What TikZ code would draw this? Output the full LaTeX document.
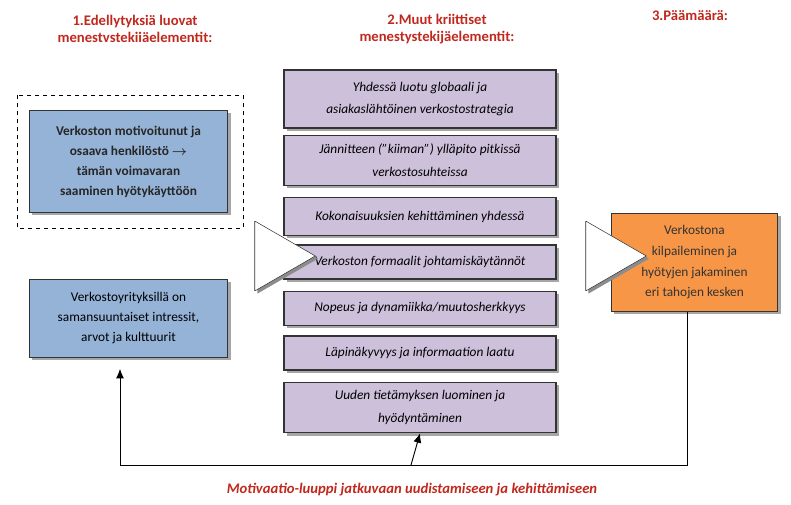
\documentclass[tikz,border=0pt]{standalone}
\usepackage{amsmath}
\usepackage{fontspec}
\setmainfont{Carlito}
\usetikzlibrary{shadows,shapes.arrows,arrows.meta}
\definecolor{hdr}{RGB}{192,40,30}
\definecolor{bl}{RGB}{149,179,215}
\definecolor{pu}{RGB}{204,192,218}
\definecolor{orn}{RGB}{247,150,70}
\begin{document}
\begin{tikzpicture}[x=0.75pt,y=-0.75pt,
 box/.style={draw=black!80,line width=0.8pt,drop shadow={shadow xshift=2pt,shadow yshift=-2pt,fill=black!35,opacity=1},align=center,inner sep=0pt},
 hd/.style={text=hdr,font=\bfseries\fontsize{11}{13}\selectfont,align=center},
 big/.style={single arrow,draw=black!80,fill=white,minimum height=30pt,minimum width=52pt,single arrow head extend=0pt,single arrow tip angle=60,inner sep=0pt,drop shadow={shadow xshift=2pt,shadow yshift=-2pt,fill=black!45,opacity=1},single arrow head indent=0pt}]
\useasboundingbox (0,0) rectangle (791,505);
\node[hd] (h1) at (135,29) {1.Edellytyksiä luovat\\menestvstekiiäelementit:};
\node[hd] (h2) at (437,29) {2.Muut kriittiset\\menestystekijäelementit:};
\node[hd] (h3) at (690,16) {3.Päämäärä:};
\draw[dashed,line width=0.5pt] (17,95) rectangle (243,228);
\node[box,fill=bl,minimum width=149pt,minimum height=77pt,font=\bfseries\fontsize{10}{15}\selectfont,text=black!85] (b1) at (128.5,161.5) {Verkoston motivoitunut ja\\osaava henkilöstö $\boldsymbol{\rightarrow}$\\tämän voimavaran\\saaminen hyötykäyttöön};
\node[box,fill=bl,minimum width=149pt,minimum height=58pt,font=\fontsize{10}{15}\selectfont] (b2) at (128.5,318.5) {Verkostoyrityksillä on\\samansuuntaiset intressit,\\arvot ja kulttuurit};
\tikzset{mid/.style={box,fill=pu,minimum width=204pt,font=\itshape\fontsize{10}{17}\selectfont}}
\node[mid,minimum height=43.5pt] (m1) at (420,99) {Yhdessä luotu globaali ja\\asiakaslähtöinen verkostostrategia};
\node[mid,minimum height=38pt] (m2) at (420,160.5) {Jännitteen (”kiiman”) ylläpito pitkissä\\verkostosuhteissa};
\node[mid,minimum height=29pt] (m3) at (420,216.5) {Kokonaisuuksien kehittäminen yhdessä};
\node[mid,minimum height=25.5pt] (m4) at (420,262) {Verkoston formaalit johtamiskäytännöt};
\node[mid,minimum height=25pt] (m5) at (420,308.5) {Nopeus ja dynamiikka/muutosherkkyys};
\node[mid,minimum height=25.5pt] (m6) at (420,353) {Läpinäkyvyys ja informaation laatu};
\node[mid,minimum height=38pt] (m7) at (420,407.5) {Uuden tietämyksen luominen ja\\hyödyntäminen};
\node[box,fill=orn,minimum width=125pt,minimum height=74pt,font=\fontsize{10}{15.5}\selectfont,text=black!80] (o) at (694.5,262.5) {Verkostona\\kilpaileminen ja\\hyötyjen jakaminen\\eri tahojen kesken};
\node[big] (a1) at (255,256) {};
\node[big] (a2) at (586,256) {};
\coordinate (c1) at (120,465);
\coordinate (c2) at (411,465);
\coordinate (c3) at (687,465);
\draw[line width=0.7pt] (o.south -| c3) -- (c3) -- (c1);
\draw[line width=0.7pt,-{Latex[length=7pt,width=6pt]}] (c1) -- (120,369);
\draw[line width=0.7pt,-{Latex[length=7pt,width=6pt]}] (c2) -- (m7.south);
\node[text=hdr,font=\bfseries\itshape\fontsize{11}{13}\selectfont] (cap) at (412,490) {Motivaatio-luuppi jatkuvaan uudistamiseen ja kehittämiseen};
\end{tikzpicture}
\end{document}
